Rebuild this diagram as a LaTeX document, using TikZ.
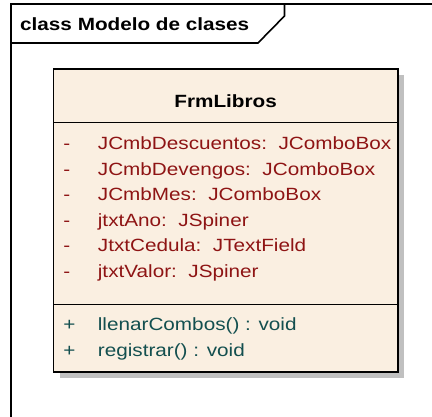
\documentclass[tikz,border=0pt]{standalone}
\usepackage{fontspec}
\setmainfont{Liberation Sans}[FakeStretch=1.17]
\definecolor{boxfill}{HTML}{FAEFE1}
\definecolor{attrcol}{HTML}{8E1414}
\definecolor{opcol}{HTML}{134F4F}
\definecolor{shadowcol}{HTML}{C0C0C0}
\begin{document}
\begin{tikzpicture}[x=1pt,y=-1pt,
  txt/.style={inner sep=0pt,anchor=base west,font=\fontsize{17.7}{20}\selectfont},
  attr/.style={txt,text=attrcol},
  oper/.style={txt,text=opcol},
  ttl/.style={inner sep=0pt,anchor=base,font=\fontsize{17.7}{20}\selectfont\bfseries}]
\useasboundingbox (0,0) rectangle (432,417);
% frame
\draw[line width=2pt] (11,420) -- (11,4.5) -- (436,4.5);
\draw[line width=1.6pt] (11,43) -- (258,43) -- (284.5,16) -- (284.5,4.5);
\node[inner sep=0pt,anchor=base west,font=\fontsize{17.7}{20}\selectfont\bfseries] (frametitle) at (20,31) {class Modelo de clases};
% class box
\fill[shadowcol] (59.5,75) rectangle (404,378);
\filldraw[fill=boxfill,draw=black,line width=1.8pt] (53.5,69) rectangle (397.7,372);
\draw[line width=1.5pt] (53.5,122.7) -- (397.7,122.7);
\draw[line width=1.5pt] (53.5,304.3) -- (397.7,304.3);
\node[ttl] (cname) at (225.6,108) {FrmLibros};
% attributes
\foreach \y/\s/\t [count=\i] in {150/-/{JCmbDescuentos:\ \ JComboBox},175.5/-/{JCmbDevengos:\ \ JComboBox},201/-/{JCmbMes:\ \ JComboBox},226.5/-/{jtxtAno:\ \ JSpiner},252/-/{JtxtCedula:\ \ JTextField},277.5/-/{jtxtValor:\ \ JSpiner}}{
  \node[attr,anchor=base] (av\i) at (66.7,\y) {\s};
  \node[attr] (a\i) at (97.7,\y) {\t};
}
% operations
\node[oper,anchor=base] (ov1) at (69.3,331) {+};
\node[oper] (o1) at (97.7,331) {llenarCombos() : void};
\node[oper,anchor=base] (ov2) at (69.3,356.5) {+};
\node[oper] (o2) at (97.7,356.5) {registrar() : void};
\end{tikzpicture}
\end{document}
